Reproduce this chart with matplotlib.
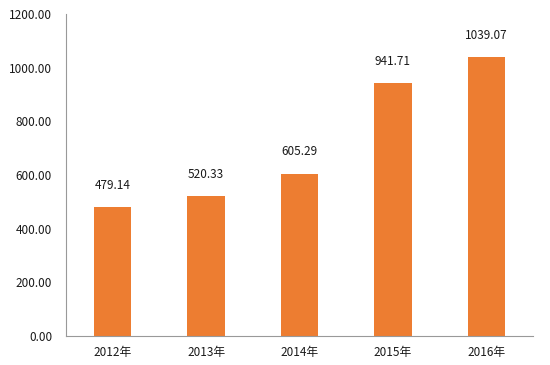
import matplotlib.pyplot as plt

plt.rcParams['font.family'] = ['Noto Sans CJK SC', 'DejaVu Sans']

years = ["2012年", "2013年", "2014年", "2015年", "2016年"]
values = [479.14, 520.33, 605.29, 941.71, 1039.07]
yticks = [0, 200, 400, 600, 800, 1000, 1200]

fig = plt.figure(figsize=(5.5, 3.65), dpi=100)
ax = fig.add_axes([0.12, 0.0795, 0.849, 0.882])

x = range(len(years))
bars = ax.bar(x, values, width=0.4, color="#ED7D31")

for xi, v in zip(x, values):
    ax.annotate("%.2f" % v, (xi, v), xytext=(0, 11), textcoords="offset points",
                ha="center", va="bottom", fontsize=8.5, color="#1a1a1a")

ax.set_xlim(-0.5, 4.5)
ax.set_ylim(0, 1200)
ax.set_yticks(yticks)
ax.set_yticklabels(["%.2f" % t for t in yticks])
ax.set_xticks(list(x))
ax.set_xticklabels(years)

ax.tick_params(axis="both", length=0, labelsize=8.5, colors="#1a1a1a")
ax.tick_params(axis="y", pad=10)
ax.tick_params(axis="x", pad=7)

ax.spines["top"].set_visible(False)
ax.spines["right"].set_visible(False)
ax.spines["left"].set_color("#999999")
ax.spines["bottom"].set_color("#999999")

fig.savefig("out.png", dpi=100)
